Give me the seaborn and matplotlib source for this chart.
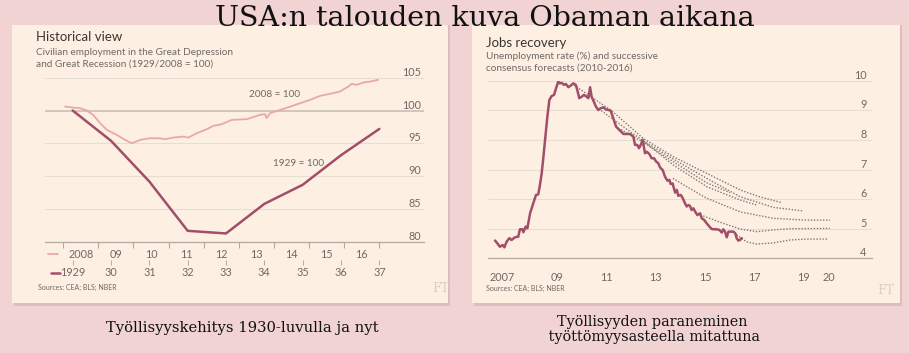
import matplotlib
matplotlib.use("Agg")
import matplotlib.pyplot as plt
import seaborn as sns
import pandas as pd
from matplotlib.patches import Rectangle
from matplotlib.lines import Line2D

# ---- data: left chart (civilian employment, 1929/2008 = 100) ----
emp2008_t = [2008.05, 2008.28, 2008.48, 2008.67, 2008.85, 2009.05, 2009.24, 2009.52,
             2009.76, 2009.95, 2010.19, 2010.47, 2010.71, 2010.90, 2011.13, 2011.42,
             2011.56, 2011.80, 2012.09, 2012.27, 2012.51, 2012.80, 2013.23, 2013.60,
             2013.75, 2013.79, 2013.89, 2014.18, 2014.47, 2014.75, 2015.03, 2015.31,
             2015.60, 2015.88, 2016.12, 2016.22, 2016.36, 2016.55, 2016.74, 2016.97]
emp2008_v = [100.6, 100.45, 100.36, 100.0, 99.34, 98.08, 97.06, 96.3,
             95.53, 95.03, 95.53, 95.79, 95.79, 95.64, 95.88, 96.04,
             95.88, 96.55, 97.16, 97.67, 97.92, 98.58, 98.69, 99.34,
             99.45, 98.84, 99.6, 100.1, 100.6, 101.12, 101.62, 102.23,
             102.54, 102.89, 103.65, 104.06, 103.91, 104.26, 104.41, 104.67]
emp1929_t = [1929, 1930, 1931, 1932, 1933, 1934, 1935, 1936, 1937]
emp1929_v = [100.0, 95.4, 89.2, 81.7, 81.3, 85.8, 88.7, 93.2, 97.2]

top_ticks = ["2008", "09", "10", "11", "12", "13", "14", "15", "16"]
low_ticks = ["1929", "30", "31", "32", "33", "34", "35", "36", "37"]

# ---- data: right chart (unemployment rate %) ----
unemp_t = [2007.00, 2007.09, 2007.20, 2007.31, 2007.38, 2007.47, 2007.58, 2007.67, 2007.81, 2007.94,
           2008.01, 2008.11, 2008.15, 2008.24, 2008.31, 2008.42, 2008.55, 2008.66, 2008.75, 2008.82,
           2008.89, 2008.96, 2009.04, 2009.12, 2009.20, 2009.29, 2009.39, 2009.47, 2009.56, 2009.63,
           2009.70, 2009.79, 2009.87, 2009.97, 2010.04, 2010.17, 2010.27, 2010.33, 2010.41, 2010.51,
           2010.60, 2010.71, 2010.78, 2010.85, 2010.91, 2010.98, 2011.09, 2011.18, 2011.28, 2011.39,
           2011.49, 2011.59, 2011.68, 2011.79, 2011.90, 2012.03, 2012.20, 2012.33, 2012.47, 2012.60,
           2012.67, 2012.76, 2012.83, 2012.90, 2012.98, 2013.07, 2013.14, 2013.25, 2013.34, 2013.44,
           2013.52, 2013.61, 2013.68, 2013.79, 2013.88, 2013.98, 2014.06, 2014.11, 2014.19, 2014.29,
           2014.36, 2014.42, 2014.52, 2014.60, 2014.69, 2014.76, 2014.83, 2014.89, 2014.96, 2015.03,
           2015.10, 2015.19, 2015.30, 2015.37, 2015.46, 2015.57, 2015.68, 2015.77, 2015.87, 2015.97,
           2016.08, 2016.18, 2016.24, 2016.31, 2016.38, 2016.45, 2016.54, 2016.65, 2016.73, 2016.78,
           2016.85, 2016.92, 2016.99]
unemp_v = [4.60, 4.51, 4.39, 4.45, 4.37, 4.56, 4.68, 4.62, 4.71, 4.73,
           4.98, 4.98, 4.88, 5.07, 5.01, 5.52, 5.86, 6.14, 6.16, 6.48,
           6.87, 7.43, 8.11, 8.79, 9.35, 9.48, 9.52, 9.74, 9.97, 9.91,
           9.93, 9.86, 9.89, 9.78, 9.82, 9.91, 9.86, 9.69, 9.41, 9.46,
           9.52, 9.46, 9.41, 9.78, 9.46, 9.33, 9.12, 9.01, 9.07, 9.10,
           9.03, 9.01, 8.99, 8.73, 8.45, 8.34, 8.20, 8.20, 8.20, 8.11,
           7.83, 7.83, 7.72, 7.83, 8.00, 7.55, 7.60, 7.52, 7.38, 7.38,
           7.27, 7.21, 7.07, 6.98, 6.76, 6.62, 6.65, 6.51, 6.53, 6.22,
           6.31, 6.11, 6.14, 6.03, 5.86, 5.75, 5.80, 5.77, 5.63, 5.69,
           5.58, 5.46, 5.52, 5.35, 5.30, 5.18, 5.07, 4.99, 4.98, 4.98,
           4.96, 4.87, 4.98, 4.90, 4.71, 4.90, 4.90, 4.90, 4.84, 4.68,
           4.60, 4.62, 4.68]

# consensus forecasts, one per year
fc2010_t = [2010.2, 2011.7, 2013.0, 2014.22, 2015.57, 2016.92, 2017.7, 2018.6]
fc2010_v = [9.85, 9.0, 8.05, 7.43, 6.87, 6.31, 6.08, 5.88]
fc2011_t = [2011.2, 2012.1, 2013.0, 2014.22, 2015.57, 2016.92, 2018.27, 2019.48]
fc2011_v = [9.05, 8.5, 7.97, 7.35, 6.70, 6.08, 5.72, 5.60]
fc2012_t = [2012.1, 2013.0, 2014.22, 2015.57, 2016.51]
fc2012_v = [8.35, 7.92, 7.26, 6.55, 6.22]
fc2013_t = [2012.95, 2014.22, 2015.57, 2016.92, 2017.59]
fc2013_v = [8.0, 7.15, 6.42, 5.97, 5.80]
fc2014_t = [2014.2, 2014.9, 2015.57, 2016.92, 2018.27, 2019.6, 2020.56]
fc2014_v = [6.7, 6.35, 6.03, 5.57, 5.35, 5.29, 5.29]
fc2015_t = [2015.43, 2016.24, 2016.92, 2017.59, 2018.27, 2018.95, 2020.56]
fc2015_v = [5.43, 5.18, 4.99, 4.90, 4.96, 5.00, 5.01]
fc2016_t = [2016.78, 2017.18, 2017.59, 2018.27, 2018.95, 2019.6, 2020.49]
fc2016_v = [4.79, 4.56, 4.48, 4.52, 4.62, 4.65, 4.65]

right_tick_pos = [2007.3, 2009.5, 2011.5, 2013.5, 2015.5, 2017.5, 2019.5, 2020.5]
right_ticks = ["2007", "09", "11", "13", "15", "17", "19", "20"]

# ---- style ----
W, H = 909, 353
BG = "#f1d3d3"
PANEL = "#fdf0e3"
DARK = "#a24e69"
PINK = "#e9a7ac"
GRID = "#e6ddd3"
AXC = "#b3aaa2"
TXT = "#6f6965"

sns.set_style("white")
plt.rcParams["font.family"] = ["Lato", "DejaVu Sans"]


def fx(x):
    return x / W


def fy(y):
    return 1 - y / H


fig = plt.figure(figsize=(W / 100, H / 100), dpi=100, facecolor=BG)

# cream panels with a soft shadow
for x0, x1 in [(12, 448), (472, 900)]:
    fig.add_artist(Rectangle((fx(x0 + 2), fy(306)), (x1 - x0) / W, 281 / H,
                             transform=fig.transFigure, facecolor="#d9b3b5",
                             edgecolor="none", alpha=0.7, zorder=-3))
    fig.add_artist(Rectangle((fx(x0), fy(303)), (x1 - x0) / W, 278 / H,
                             transform=fig.transFigure, facecolor=PANEL,
                             edgecolor="none", zorder=-2))


def style_axis(ax):
    ax.set_facecolor("none")
    for s in ["top", "left", "right"]:
        ax.spines[s].set_visible(False)
    ax.spines["bottom"].set_color(AXC)
    ax.spines["bottom"].set_linewidth(0.9)
    ax.grid(axis="y", color=GRID, lw=0.8)
    ax.grid(axis="x", visible=False)
    ax.set_xlabel("")
    ax.set_ylabel("")
    ax.yaxis.tick_right()
    ax.tick_params(axis="y", length=0, pad=-2, labelsize=7.8, labelcolor=TXT)
    for lab in ax.get_yticklabels():
        lab.set_ha("right")
        lab.set_va("bottom")


# ---------------- left chart ----------------
axL = fig.add_axes([fx(45), fy(242), 379 / W, (242 - 77.67) / H])
sns.lineplot(x=emp2008_t, y=emp2008_v, ax=axL, color=PINK, lw=1.3)
axL.set_xlim(2007.479, 2018.276)
axL.set_ylim(80, 105)
axL.set_yticks([80, 85, 90, 95, 100, 105])
style_axis(axL)
axL.axhline(100, color="#cbc2b8", lw=1.2, zorder=1)
axL.set_xticks(range(2008, 2018))
axL.set_xticklabels([])
axL.set_xticks([y + 0.5 for y in range(2008, 2017)], minor=True)
axL.set_xticklabels(top_ticks, minor=True)
axL.tick_params(axis="x", which="major", length=4, width=0.8, color=AXC, direction="out")
axL.tick_params(axis="x", which="minor", length=0, pad=5, labelsize=7.8, labelcolor=TXT)
axL.text(2014.03, 102.49, "2008 = 100", ha="center", va="center", fontsize=7.2, color=TXT)
axL.text(2014.71, 91.99, "1929 = 100", ha="center", va="center", fontsize=7.2, color=TXT)

ax2 = axL.twiny()
sns.lineplot(x=emp1929_t, y=emp1929_v, ax=ax2, color=DARK, lw=1.8)
ax2.set_xlim(1928.278, 1938.166)
ax2.set_ylim(80, 105)
for s in ax2.spines.values():
    s.set_visible(False)
ax2.xaxis.set_ticks_position("bottom")
ax2.spines["bottom"].set_position(("outward", 13))
ax2.set_xticks(emp1929_t)
ax2.set_xticklabels(low_ticks)
ax2.tick_params(axis="x", length=3.5, width=0.7, color=AXC, pad=1.5, labelsize=7.8, labelcolor=TXT)
ax2.set_xlabel("")
ax2.set_ylabel("")

fig.add_artist(Line2D([fx(48), fx(58)], [fy(254.3), fy(254.3)], color=PINK, lw=1.3))
fig.add_artist(Line2D([fx(51), fx(60)], [fy(272.7), fy(272.7)], color=DARK, lw=1.8))

fig.text(fx(36), fy(37.3), "Historical view", fontsize=9.5, color="#3a3532", va="center")
fig.text(fx(36), fy(52.7), "Civilian employment in the Great Depression",
         fontsize=7.2, color=TXT, va="center")
fig.text(fx(36), fy(63.7), "and Great Recession (1929/2008 = 100)",
         fontsize=7.2, color=TXT, va="center")
fig.text(fx(37.5), fy(287), "Sources: CEA; BLS; NBER", fontsize=5, color=TXT, va="center")
fig.text(fx(432), fy(289), "FT", fontsize=9, color="#d8cfc6", va="center", family="DejaVu Serif")

# ---------------- right chart ----------------
axR = fig.add_axes([fx(488), fy(258.3), 384 / W, (258.3 - 80.7) / H])
fc = pd.concat([
    pd.DataFrame({"t": t, "v": v, "year": yr})
    for yr, t, v in [(2010, fc2010_t, fc2010_v), (2011, fc2011_t, fc2011_v),
                     (2012, fc2012_t, fc2012_v), (2013, fc2013_t, fc2013_v),
                     (2014, fc2014_t, fc2014_v), (2015, fc2015_t, fc2015_v),
                     (2016, fc2016_t, fc2016_v)]
])
sns.lineplot(data=fc, x="t", y="v", units="year", estimator=None, ax=axR,
             color="#7f7a75", lw=1.0, linestyle=(0, (1, 1.2)))
sns.lineplot(x=unemp_t, y=unemp_v, ax=axR, color=DARK, lw=1.8)
axR.set_xlim(2006.717, 2022.26)
axR.set_ylim(4, 10)
axR.set_yticks(range(4, 11))
style_axis(axR)
axR.tick_params(axis="y", pad=-4)
axR.set_xticks(range(2007, 2022))
axR.set_xticklabels([])
axR.set_xticks(right_tick_pos, minor=True)
axR.set_xticklabels(right_ticks, minor=True)
axR.tick_params(axis="x", which="major", length=4, width=0.8, color=AXC, direction="out")
axR.tick_params(axis="x", which="minor", length=0, pad=10, labelsize=7.8, labelcolor=TXT)

fig.text(fx(486), fy(43.3), "Jobs recovery", fontsize=9.5, color="#3a3532", va="center")
fig.text(fx(486), fy(56.7), "Unemployment rate (%) and successive",
         fontsize=7.2, color=TXT, va="center")
fig.text(fx(486), fy(68.3), "consensus forecasts (2010-2016)",
         fontsize=7.2, color=TXT, va="center")
fig.text(fx(486.5), fy(288), "Sources: CEA; BLS; NBER", fontsize=5, color=TXT, va="center")
fig.text(fx(877), fy(290), "FT", fontsize=9, color="#d8cfc6", va="center", family="DejaVu Serif")

# ---------------- page texts ----------------
fig.text(fx(485), fy(19), "USA:n talouden kuva Obaman aikana", ha="center", va="center",
         fontsize=20.5, family="DejaVu Serif", color="#111111")
fig.text(fx(242), fy(328), "Työllisyyskehitys 1930-luvulla ja nyt", ha="center", va="center",
         fontsize=10.6, family="DejaVu Serif", color="#111111")
fig.text(fx(652), fy(329.5), "Työllisyyden paraneminen\n työttömyysasteella mitattuna",
         ha="center", va="center", multialignment="center", linespacing=1.1,
         fontsize=10.4, family="DejaVu Serif", color="#111111")

fig.savefig("out.png", dpi=100, facecolor=BG)
